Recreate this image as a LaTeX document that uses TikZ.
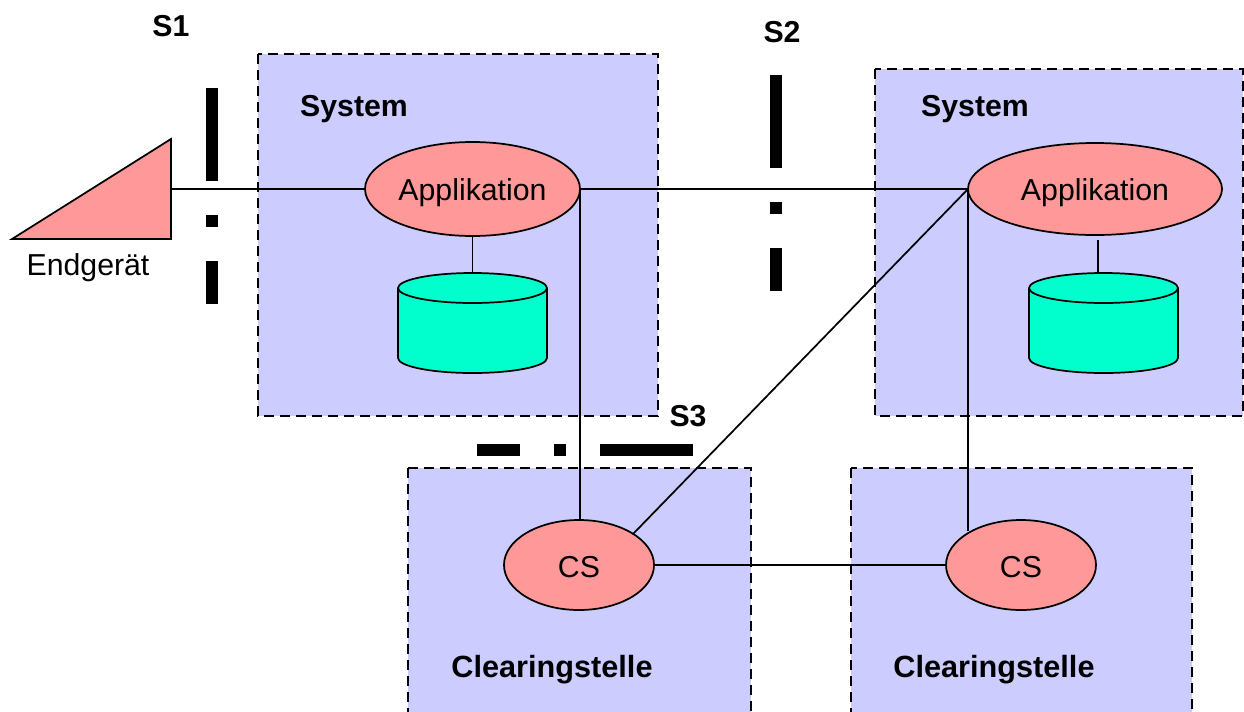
\documentclass[tikz,border=0pt]{standalone}
\usepackage{fontspec}
\setmainfont{Liberation Sans}
\usetikzlibrary{shapes.geometric}
\definecolor{boxblue}{RGB}{204,204,255}
\definecolor{salmon}{RGB}{255,153,153}
\definecolor{dbgreen}{RGB}{0,255,204}
\tikzset{
  px/.style={x=0.75pt,y=-0.75pt},
  zone/.style={draw=black,fill=boxblue,line width=2.1pt,dash pattern=on 7.5pt off 4.5pt},
  wire/.style={draw=black,line width=1.3pt},
  oval/.style={ellipse,draw=black,fill=salmon,line width=1.3pt,inner sep=0pt,outer sep=0pt,font=\fontsize{22.7pt}{26pt}\selectfont,text height=19.3pt,text depth=0pt},
  appoval/.style={oval,text height=16.6pt},
  dbshape/.style={draw=black,fill=dbgreen,line width=1.3pt,line join=round},
  bar/.style={fill=black,draw=none},
  plain/.style={anchor=base,inner sep=0pt,font=\fontsize{22.7pt}{26pt}\selectfont},
  heading/.style={plain,font=\fontsize{22.7pt}{26pt}\selectfont\bfseries},
  headingwide/.style={plain,font=\fontsize{23pt}{26pt}\selectfont\bfseries},
}
\begin{document}
\begin{tikzpicture}[px]
\useasboundingbox (0,0) rectangle (1244,711);
\clip (0,0) rectangle (1244,711);
% zones
\path[zone] (258,54) rectangle (658,416);
\path[zone] (875,69) rectangle (1243,416);
\path[zone] (408,468) rectangle (751,730);
\path[zone] (851,468) rectangle (1192,730);
% interface bars
\fill[bar] (206,88) rectangle (218,181);
\fill[bar] (206,215) rectangle (218,227);
\fill[bar] (206,261) rectangle (218,304);
\fill[bar] (770,75) rectangle (782,168);
\fill[bar] (770,202) rectangle (782,214);
\fill[bar] (770,248) rectangle (782,291);
\fill[bar] (477,444) rectangle (520,456);
\fill[bar] (554,444) rectangle (566,456);
\fill[bar] (600,444) rectangle (693,456);
% terminal
\draw[wire,fill=salmon,line join=miter] (12,239) -- (171,139) -- (171,239) -- cycle;
\coordinate (term) at (171,189);
% ovals
\node[appoval,minimum width=161.25pt,minimum height=70.5pt] (app1) at (472.5,189) {Applikation};
\node[appoval,minimum width=190.5pt,minimum height=69pt] (app2) at (1095,189) {Applikation};
\node[oval,minimum width=112.5pt,minimum height=67.5pt] (cs1) at (579,565) {CS};
\node[oval,minimum width=112.5pt,minimum height=67.5pt] (cs2) at (1021,565) {CS};
% databases
\draw[dbshape] (398,288) arc[start angle=180,end angle=0,x radius=74.5,y radius=-15]
  -- (547,358) arc[start angle=0,end angle=-180,x radius=74.5,y radius=-15] -- cycle;
\draw[dbshape,fill=none] (398,288) arc[start angle=180,end angle=360,x radius=74.5,y radius=-15];
\coordinate (db1top) at (472.5,273);
\draw[dbshape] (1029,288) arc[start angle=180,end angle=0,x radius=74.5,y radius=-15]
  -- (1178,358) arc[start angle=0,end angle=-180,x radius=74.5,y radius=-15] -- cycle;
\draw[dbshape,fill=none] (1029,288) arc[start angle=180,end angle=360,x radius=74.5,y radius=-15];
\coordinate (db2top) at (1098,273);
% connector helpers
\coordinate (a1e) at (app1.east);
\coordinate (a2w) at (app2.west);
\coordinate (a2s) at (1098,240);
\coordinate (cs1d) at (633,534);
\coordinate (cs2d) at (968,531);
% connectors
\draw[wire] (term) -- (app1.west);
\draw[wire] (app1.south) -- (db1top);
\draw[wire] (a2s) -- (db2top);
\draw[wire] (a1e) -- (a2w);
\draw[wire] (a1e) -- (a1e |- cs1.north);
\draw[wire] (a2w) -- (cs1d);
\draw[wire] (a2w) -- (cs2d);
\draw[wire] (cs1.east) -- (cs2.west);
% labels
\node[heading] (s1) at (171,36) {S1};
\node[heading] (s2) at (782,42) {S2};
\node[heading] (s3) at (688,426) {S3};
\node[heading] (sys1) at (354,116) {System};
\node[heading] (sys2) at (975,116) {System};
\node[plain] (termlabel) at (88,275) {Endgerät};
\node[headingwide] (cl1) at (552,677) {Clearingstelle};
\node[headingwide] (cl2) at (994,677) {Clearingstelle};
\end{tikzpicture}
\end{document}
